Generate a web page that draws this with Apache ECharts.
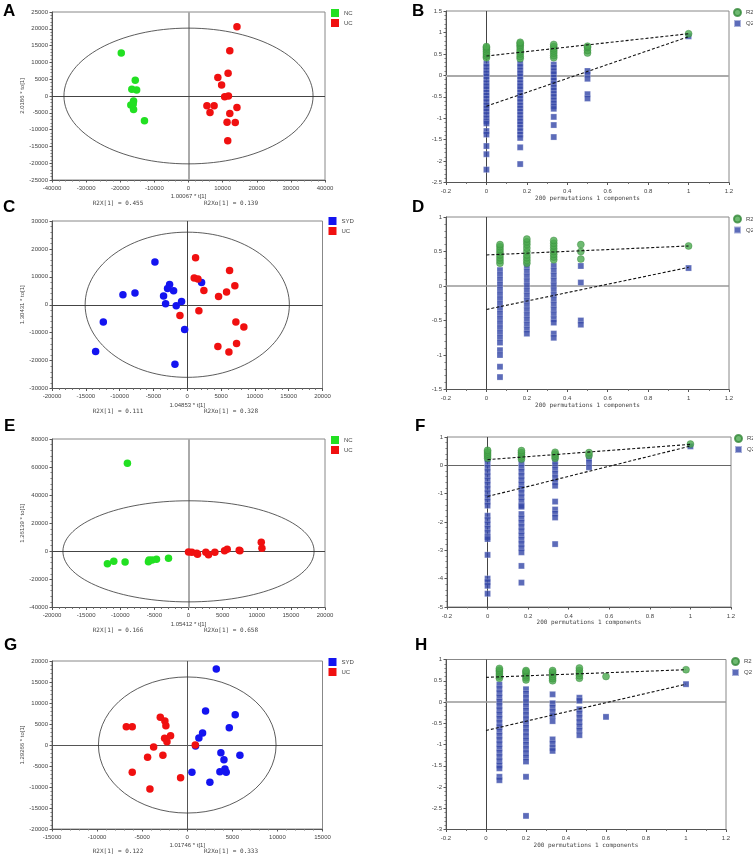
<!DOCTYPE html>
<html>
<head>
<meta charset="utf-8">
<title>OPLS-DA score plots and permutation tests</title>
<script src="https://cdn.jsdelivr.net/npm/echarts@6/dist/echarts.min.js"></script>
<style>
  html, body { margin: 0; padding: 0; background: #fff; }
  #chart { width: 753px; height: 855px; }
</style>
</head>
<body>
<div id="chart"></div>
<script>
// ---------- score plots (t[1] vs to[1]) ----------
// Panel A : NC vs UC
const aNC = [[-19700, 12800], [-15600, 4660], [-16600, 2000], [-15200, 1800], [-16100, -1500],
  [-16900, -2700], [-16200, -2400], [-16100, -4000], [-12900, -7400]];
const aUC = [[14200, 20600], [12100, 13500], [11600, 6800], [8600, 5500], [9700, 3300], [10600, -200],
  [11700, 0], [5400, -2900], [7500, -2900], [6300, -4900], [14200, -3400], [12100, -5200],
  [11300, -7800], [13700, -7900], [11500, -13300]];
const aEllipse = [36500, 20200];
const aXRange = [-40000, 40000, 10000];
const aYRange = [-25000, 25000, 5000];
const aStats = ['R2X[1] = 0.455', 'R2Xo[1] = 0.139'];

// Panel C : SYD vs UC
const cSYD = [[-4780, 15300], [-9510, 3580], [-7730, 4180], [-2610, 7290], [-2910, 5850], [-2020, 5020],
  [-3500, 3110], [-3200, 360], [-840, 1190], [-1630, -360], [2120, 8000], [-390, -8840],
  [-12410, -6210], [-13550, -16730], [-1820, -21270]];
const cUC = [[1230, 16850], [6260, 12300], [1030, 9560], [1580, 9200], [2460, 5140], [7040, 6810],
  [5810, 4540], [4630, 2990], [1720, -2150], [-1080, -3820], [7190, -6210], [8370, -8000],
  [4530, -14930], [7290, -13860], [6160, -16970]];
const cEllipse = [15100, 26000];
const cXRange = [-20000, 20000, 5000];
const cYRange = [-30000, 30000, 10000];
const cStats = ['R2X[1] = 0.111', 'R2Xo[1] = 0.328'];

// Panel E : NC vs UC
const eNC = [[-8950, 62700], [-11880, -8790], [-10950, -7130], [-9290, -7600], [-5870, -7360],
  [-5770, -6180], [-5330, -6180], [-4690, -5700], [-2930, -4990]];
const eUC = [[0, -480], [490, -710], [1220, -1430], [1320, -2140], [2540, -710], [2930, -2380],
  [3860, -710], [5280, 480], [5670, 1430], [7430, 710], [7530, 480], [10660, 6410], [10760, 2140]];
const eEllipse = [18400, 36000];
const eXRange = [-20000, 20000, 5000];
const eYRange = [-40000, 80000, 20000];
const eStats = ['R2X[1] = 0.166', 'R2Xo[1] = 0.658'];

// Panel G : SYD vs UC
const gSYD = [[3220, 18070], [2030, 8080], [5320, 7210], [4660, 4120], [1700, 2850], [1290, 1660],
  [920, -240], [3730, -1820], [4070, -3490], [5840, -2460], [4180, -5710], [3620, -6340],
  [4320, -6500], [520, -6500], [2510, -8870]];
const gUC = [[-6760, 4360], [-6100, 4360], [-2990, 6580], [-2480, 5710], [-2370, 4600], [-2510, 1580],
  [-2250, 790], [-1850, 2220], [-3730, -480], [-4400, -2930], [-2700, -2460], [-6100, -6500],
  [-4140, -10460], [-740, -7770], [890, 0]];
const gEllipse = [9850, 16200];
const gXRange = [-15000, 15000, 5000];
const gYRange = [-20000, 20000, 5000];
const gStats = ['R2X[1] = 0.122', 'R2Xo[1] = 0.333'];

// ---------- permutation tests (200 permutations) ----------
const permXRange = [-0.2, 1.2, 0.2];

// Panel B
const bCols = [0, 0.167, 0.333, 0.5];
const bR2 = [
  [0.41, 0.45, 0.5, 0.55, 0.6, 0.64, 0.67],
  [0.39, 0.44, 0.5, 0.55, 0.6, 0.66, 0.7, 0.74, 0.77],
  [0.41, 0.46, 0.52, 0.57, 0.62, 0.67, 0.72],
  [0.52, 0.58, 0.65, 0.68]
];
const bQ2 = [
  [0.27, 0.2, 0.12, 0.05, -0.02, -0.1, -0.18, -0.25, -0.32, -0.4, -0.47, -0.54, -0.62, -0.7, -0.77,
    -0.84, -0.92, -1.0, -1.07, -1.12, -1.3, -1.38, -1.65, -1.84, -2.2],
  [0.27, 0.2, 0.12, 0.05, -0.02, -0.1, -0.18, -0.25, -0.32, -0.4, -0.47, -0.54, -0.62, -0.7, -0.77,
    -0.84, -0.92, -1.0, -1.07, -1.14, -1.22, -1.3, -1.38, -1.46, -1.68, -2.07],
  [0.25, 0.18, 0.1, 0.03, -0.05, -0.12, -0.2, -0.28, -0.35, -0.43, -0.5, -0.58, -0.65, -0.72, -0.78,
    -0.97, -1.16, -1.44],
  [0.1, 0.02, -0.08, -0.44, -0.54]
];
const bOrig = [0.97, 0.91];      // R2, Q2 of the real model
const bFitR2 = [0.45, 0.97];     // intercept, value at 1
const bFitQ2 = [-0.72, 0.9];
const bYRange = [-2.5, 1.5, 0.5];

// Panel D
const dCols = [0.067, 0.2, 0.333, 0.467];
const dR2 = [
  [0.33, 0.37, 0.41, 0.45, 0.49, 0.53, 0.57, 0.6],
  [0.33, 0.37, 0.41, 0.45, 0.5, 0.55, 0.6, 0.64, 0.68],
  [0.38, 0.42, 0.46, 0.5, 0.54, 0.58, 0.62, 0.66],
  [0.6, 0.5, 0.39]
];
const dQ2 = [
  [0.23, 0.16, 0.09, 0.02, -0.05, -0.12, -0.19, -0.26, -0.33, -0.4, -0.47, -0.54, -0.61, -0.68, -0.75,
    -0.82, -0.93, -1.0, -1.17, -1.32],
  [0.28, 0.21, 0.14, 0.07, 0, -0.07, -0.14, -0.21, -0.28, -0.35, -0.42, -0.49, -0.56, -0.63, -0.69],
  [0.29, 0.22, 0.15, 0.08, 0.01, -0.06, -0.13, -0.2, -0.27, -0.34, -0.41, -0.48, -0.53, -0.69, -0.75],
  [0.29, 0.05, -0.5, -0.56]
];
const dOrig = [0.58, 0.26];
const dFitR2 = [0.45, 0.58];
const dFitQ2 = [-0.34, 0.27];
const dYRange = [-1.5, 1, 0.5];

// Panel F
const fCols = [0, 0.167, 0.333, 0.5];
const fR2 = [
  [0.25, 0.33, 0.4, 0.47, 0.53],
  [0.22, 0.3, 0.38, 0.45, 0.52],
  [0.25, 0.33, 0.4, 0.46],
  [0.35, 0.45]
];
const fQ2 = [
  [0.22, 0.07, -0.08, -0.23, -0.38, -0.53, -0.68, -0.83, -0.98, -1.13, -1.28, -1.42, -1.78, -1.93,
    -2.08, -2.23, -2.38, -2.53, -2.6, -3.16, -4.0, -4.12, -4.25, -4.53],
  [0.08, -0.07, -0.22, -0.37, -0.52, -0.67, -0.82, -0.97, -1.12, -1.27, -1.42, -1.46, -1.72, -1.87,
    -2.02, -2.17, -2.32, -2.47, -2.62, -2.77, -2.92, -3.07, -3.55, -4.14],
  [0.16, 0.01, -0.14, -0.29, -0.44, -0.59, -0.72, -1.28, -1.56, -1.7, -1.84, -2.78],
  [0.25, 0.1, -0.07]
];
const fOrig = [0.75, 0.67];
const fFitR2 = [0.2, 0.74];
const fFitQ2 = [-1.1, 0.68];
const fYRange = [-5, 1, 1];

// Panel H
const hCols = [0.067, 0.2, 0.333, 0.467, 0.6];
const hR2 = [
  [0.56, 0.61, 0.66, 0.71, 0.75, 0.79],
  [0.52, 0.57, 0.62, 0.67, 0.71, 0.74],
  [0.5, 0.55, 0.6, 0.65, 0.7, 0.74],
  [0.56, 0.62, 0.68, 0.74, 0.8],
  [0.6]
];
const hQ2 = [
  [0.41, 0.31, 0.21, 0.11, 0.01, -0.09, -0.19, -0.29, -0.39, -0.49, -0.59, -0.69, -0.79, -0.89, -0.99,
    -1.09, -1.19, -1.29, -1.39, -1.49, -1.56, -1.76, -1.84],
  [0.3, 0.2, 0.1, 0, -0.1, -0.2, -0.3, -0.4, -0.5, -0.6, -0.7, -0.8, -0.9, -1.0, -1.1, -1.2, -1.3,
    -1.4, -1.76, -2.68],
  [0.18, -0.03, -0.13, -0.23, -0.33, -0.45, -0.88, -0.98, -1.08, -1.15],
  [0.1, 0.03, -0.17, -0.27, -0.37, -0.47, -0.57, -0.67, -0.78],
  [-0.35]
];
const hOrig = [0.76, 0.42];
const hFitR2 = [0.58, 0.76];
const hFitQ2 = [-0.67, 0.42];
const hYRange = [-3, 1, 0.5];

// ---------- chart building ----------
const COLORS = { NC: '#22e022', UC: '#f01010', SYD: '#1414f0', R2: '#4aa94e', Q2: '#3346a8' };
const SANS = '"Liberation Sans", Arial, sans-serif';
const MONO = '"DejaVu Sans Mono", "Liberation Mono", monospace';

const chart = echarts.init(document.getElementById('chart'));
const grid = [], xAxis = [], yAxis = [], series = [], legend = [], graphic = [];

// plain tick numbers, no thousands separators
const tickText = v => String(Math.round(v * 1000) / 1000);

function makeAxis(range, minorSplit, gi) {
  return {
    type: 'value', gridIndex: gi, min: range[0], max: range[1], interval: range[2],
    axisLine: { show: true, onZero: false, lineStyle: { color: '#555', width: 1 } },
    axisTick: { show: true, length: 2.5, lineStyle: { color: '#555', width: 1 } },
    minorTick: { show: true, splitNumber: minorSplit, length: 1.5, lineStyle: { color: '#777' } },
    splitLine: { show: false },
    minorSplitLine: { show: false },
    axisLabel: { fontSize: 6, color: '#444', fontFamily: SANS, margin: 4, formatter: tickText },
    nameTextStyle: { fontSize: 6, color: '#444', fontFamily: SANS }
  };
}

// the two zero lines through the plot
function zeroLines(v, h) {
  return {
    silent: true, symbol: 'none', z: 1, label: { show: false },
    data: [
      { xAxis: 0, lineStyle: { color: v[0], width: v[1], type: 'solid' } },
      { yAxis: 0, lineStyle: { color: h[0], width: h[1], type: 'solid' } }
    ]
  };
}

function addGrid(box) {
  grid.push({ left: box[0], top: box[1], width: box[2], height: box[3], show: true,
    borderColor: '#888', borderWidth: 1, outerBoundsMode: 'none', containLabel: false });
}

function addText(text, x, y, size, family, bold) {
  graphic.push({
    type: 'text', x: x, y: y, silent: true,
    style: { text: text, fontSize: size, fontFamily: family, fontWeight: bold ? 'bold' : 'normal',
      fill: bold ? '#000' : '#444', textAlign: bold ? 'left' : 'center', align: bold ? 'left' : 'center',
      textVerticalAlign: 'middle', verticalAlign: 'middle' }
  });
}

const scorePanels = [
  { box: [52, 12, 273, 168], x: aXRange, y: aYRange, groups: [['NC', aNC], ['UC', aUC]], ell: aEllipse,
    xName: '1.00067 * t[1]', yName: '2.0186 * to[1]', stats: aStats, statY: 203, leg: [331, 9],
    zero: [['#aaa', 2], ['#444', 1]], letter: ['A', 3, 11] },
  { box: [52, 221, 270.5, 167.5], x: cXRange, y: cYRange, groups: [['SYD', cSYD], ['UC', cUC]], ell: cEllipse,
    xName: '1.04853 * t[1]', yName: '1.30431 * to[1]', stats: cStats, statY: 411, leg: [328.5, 217],
    zero: [['#444', 1], ['#444', 1]], letter: ['C', 3, 207] },
  { box: [52, 439, 273, 168.5], x: eXRange, y: eYRange, groups: [['NC', eNC], ['UC', eUC]], ell: eEllipse,
    xName: '1.05412 * t[1]', yName: '1.26139 * to[1]', stats: eStats, statY: 630, leg: [331, 436],
    zero: [['#aaa', 2], ['#444', 1]], letter: ['E', 4, 426] },
  { box: [52, 661, 270.5, 168], x: gXRange, y: gYRange, groups: [['SYD', gSYD], ['UC', gUC]], ell: gEllipse,
    xName: '1.01746 * t[1]', yName: '1.29266 * to[1]', stats: gStats, statY: 851, leg: [328.5, 658],
    zero: [['#555', 1], ['#555', 1]], letter: ['G', 4, 645] }
];

scorePanels.forEach((p, i) => {
  addGrid(p.box);
  const xa = makeAxis(p.x, 5, i);
  xa.name = p.xName; xa.nameLocation = 'middle'; xa.nameGap = 13.5; xa.axisLabel.margin = 5;
  const ya = makeAxis(p.y, 5, i);
  ya.name = p.yName; ya.nameLocation = 'middle'; ya.nameGap = 24; ya.nameRotate = 90;
  xAxis.push(xa); yAxis.push(ya);

  // Hotelling T2 ellipse
  series.push({
    type: 'custom', xAxisIndex: i, yAxisIndex: i, z: 1, silent: true,
    data: [[0, 0, p.ell[0], p.ell[1]]],
    renderItem: (params, api) => {
      const c = api.coord([api.value(0), api.value(1)]);
      const s = api.size([api.value(2), api.value(3)]);
      return { type: 'ellipse', shape: { cx: c[0], cy: c[1], rx: s[0], ry: s[1] },
        style: { fill: 'none', stroke: '#333', lineWidth: 0.8 } };
    }
  });

  p.groups.forEach((g, k) => {
    const s = { name: g[0], type: 'scatter', xAxisIndex: i, yAxisIndex: i, data: g[1], symbolSize: 7.5,
      itemStyle: { color: COLORS[g[0]], opacity: 1 }, z: 3, silent: true };
    if (k === 0) s.markLine = zeroLines(p.zero[0], p.zero[1]);
    series.push(s);
  });

  legend.push({ left: p.leg[0], top: p.leg[1], orient: 'vertical', padding: 0, itemGap: 2,
    itemWidth: 8, itemHeight: 8, icon: 'rect', selectedMode: false,
    data: p.groups.map(g => g[0]), textStyle: { fontSize: 6, color: '#444', fontFamily: SANS } });

  addText(p.stats[0], 118, p.statY, 6, MONO, false);
  addText(p.stats[1], 231, p.statY, 6, MONO, false);
  addText(p.letter[0], p.letter[1], p.letter[2], 17, SANS, true);
});

const permPanels = [
  { box: [446, 11, 283, 171.5], y: bYRange, cols: bCols, r2: bR2, q2: bQ2, orig: bOrig, fitR2: bFitR2,
    fitQ2: bFitQ2, leg: [733, 8], zero: [['#444', 1], ['#aaa', 2]], letter: ['B', 412, 11], gap: 13 },
  { box: [446, 217, 283, 172.5], y: dYRange, cols: dCols, r2: dR2, q2: dQ2, orig: dOrig, fitR2: dFitR2,
    fitQ2: dFitQ2, leg: [733, 214.5], zero: [['#444', 1], ['#999', 1.5]], letter: ['D', 412, 207], gap: 12 },
  { box: [447, 437, 284, 170], y: fYRange, cols: fCols, r2: fR2, q2: fQ2, orig: fOrig, fitR2: fFitR2,
    fitQ2: fFitQ2, leg: [734, 434], zero: [['#444', 1], ['#666', 1]], letter: ['F', 415, 426], gap: 12 },
  { box: [446, 659.5, 280, 170], y: hYRange, cols: hCols, r2: hR2, q2: hQ2, orig: hOrig, fitR2: hFitR2,
    fitQ2: hFitQ2, leg: [731, 657], zero: [['#444', 1], ['#999', 1.5]], letter: ['H', 415, 645], gap: 11.5 }
];

permPanels.forEach((p, k) => {
  const i = 4 + k;
  addGrid(p.box);
  const xa = makeAxis(permXRange, 2, i);
  xa.name = '200 permutations 1 components'; xa.nameLocation = 'middle'; xa.nameGap = p.gap;
  xa.nameTextStyle.fontFamily = MONO; xa.axisLabel.margin = 6;
  const ya = makeAxis(p.y, 5, i);
  xAxis.push(xa); yAxis.push(ya);

  const r2Data = [], q2Data = [];
  p.cols.forEach((x, c) => {
    p.r2[c].forEach(v => r2Data.push([x, v]));
    p.q2[c].forEach(v => q2Data.push([x, v]));
  });
  r2Data.push([1, p.orig[0]]);
  q2Data.push([1, p.orig[1]]);

  series.push({ name: 'Q2', type: 'scatter', xAxisIndex: i, yAxisIndex: i, data: q2Data, symbol: 'rect',
    symbolSize: 6, z: 3, silent: true,
    itemStyle: { color: COLORS.Q2, borderColor: 'rgba(255,255,255,0.6)', borderWidth: 0.5 },
    markLine: zeroLines(p.zero[0], p.zero[1]) });
  series.push({ name: 'R2', type: 'scatter', xAxisIndex: i, yAxisIndex: i, data: r2Data, symbol: 'circle',
    symbolSize: 7, z: 4, silent: true,
    itemStyle: { color: COLORS.R2, borderColor: '#34883a', borderWidth: 0.5 } });

  [p.fitR2, p.fitQ2].forEach(f => {
    series.push({ type: 'line', xAxisIndex: i, yAxisIndex: i, data: [[0, f[0]], [1, f[1]]], symbol: 'none',
      silent: true, z: 5, lineStyle: { color: '#111', width: 1.1, type: [3, 2] } });
  });

  legend.push({ left: p.leg[0], top: p.leg[1], orient: 'vertical', padding: 0, itemGap: 2,
    itemWidth: 7, itemHeight: 7, selectedMode: false,
    data: [{ name: 'R2', icon: 'circle' }, { name: 'Q2', icon: 'rect' }],
    textStyle: { fontSize: 6, color: '#444', fontFamily: SANS, width: 20, overflow: 'none' } });

  addText(p.letter[0], p.letter[1], p.letter[2], 17, SANS, true);
});

chart.setOption({
  animation: false,
  backgroundColor: '#fff',
  grid: grid,
  xAxis: xAxis,
  yAxis: yAxis,
  legend: legend,
  graphic: graphic,
  series: series
});
</script>
</body>
</html>
